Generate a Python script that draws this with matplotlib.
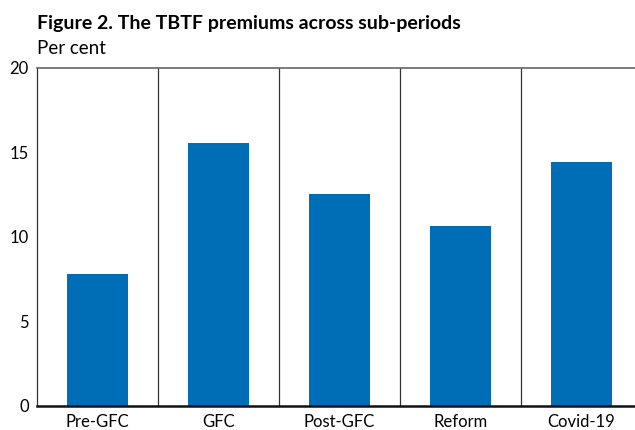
import matplotlib
matplotlib.use("Agg")
import matplotlib.pyplot as plt

categories = ["Pre-GFC", "GFC", "Post-GFC", "Reform", "Covid-19"]
values = [7.8, 15.55, 12.55, 10.65, 14.45]
yticks = [0, 5, 10, 15, 20]

plt.rcParams['font.family'] = ['Lato', 'DejaVu Sans']

W, H = 635, 430
fig = plt.figure(figsize=(W/100, H/100), dpi=100)
left, right, top, bottom = 37, 642, 68, 406
ax = fig.add_axes([left/W, 1 - bottom/H, (right-left)/W, (bottom-top)/H])

x = list(range(len(categories)))
ax.bar(x, values, width=0.5, color="#006EB6", zorder=3)
ax.set_xlim(-0.5, len(categories) - 0.5)
ax.set_ylim(0, 20)
ax.set_yticks(yticks)
ax.set_yticklabels([str(t) for t in yticks], fontsize=12)
ax.set_xticks(x)
ax.set_xticklabels(categories, fontsize=12)
ax.tick_params(axis='x', length=0, pad=6)
ax.tick_params(axis='y', length=0, pad=6)

for b in [i + 0.5 for i in range(len(categories) - 1)]:
    ax.axvline(b, color="#333333", lw=0.9, zorder=2)

ax.spines['right'].set_visible(False)
ax.spines['top'].set_color("#666666")
ax.spines['top'].set_linewidth(1.2)
ax.spines['left'].set_color("#333333")
ax.spines['left'].set_linewidth(0.9)
ax.spines['bottom'].set_color("#111111")
ax.spines['bottom'].set_linewidth(1.8)
ax.spines['bottom'].set_zorder(4)

fig.text(37/W, 1 - 23/H, "Figure 2. The TBTF premiums across sub-periods",
         fontsize=14, fontweight='bold', va='center', ha='left')
fig.text(37/W, 1 - 48/H, "Per cent", fontsize=13.5, va='center', ha='left')

fig.savefig("out.png", dpi=100)
